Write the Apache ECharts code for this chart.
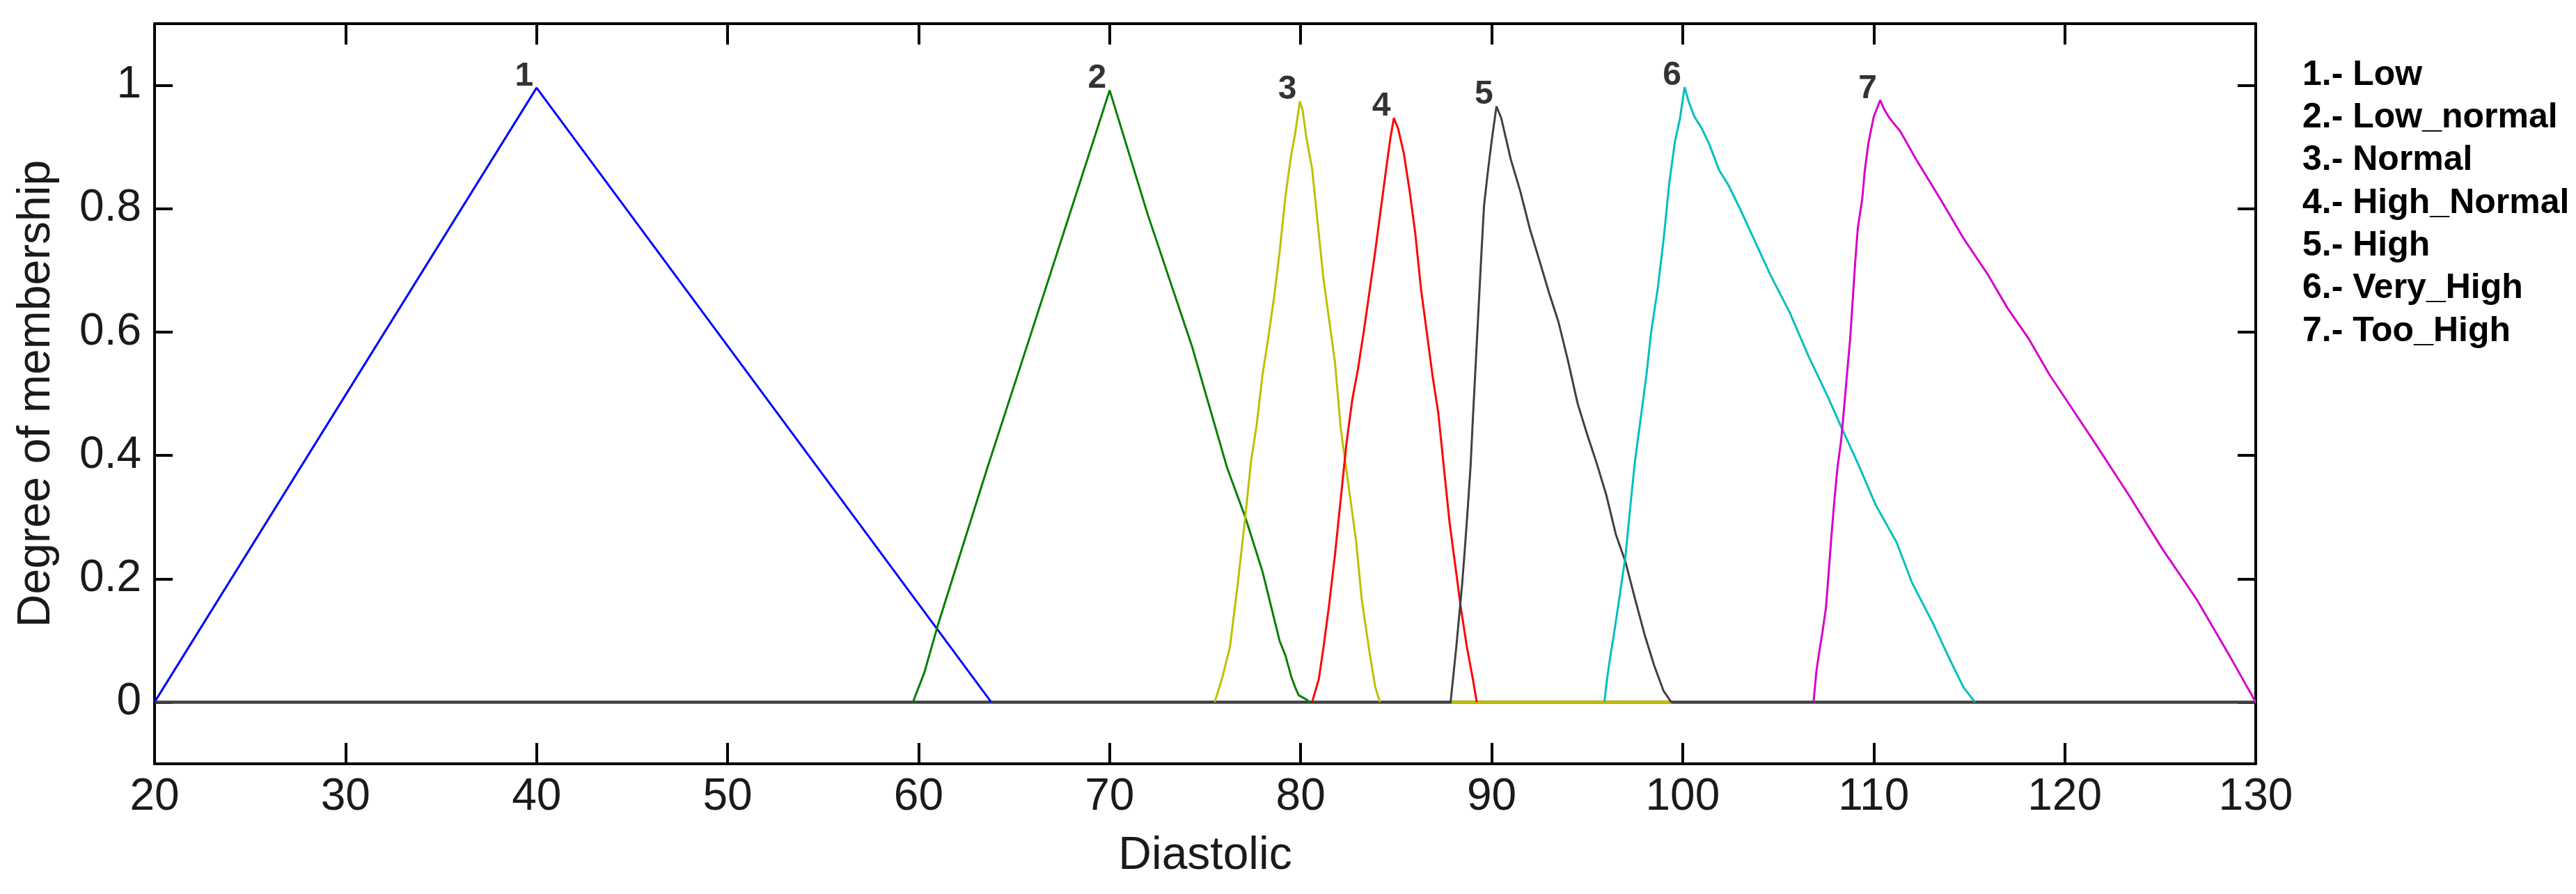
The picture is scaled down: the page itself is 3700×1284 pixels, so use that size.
<!DOCTYPE html>
<html>
<head>
<meta charset="utf-8">
<script src="https://cdn.jsdelivr.net/npm/echarts@6/dist/echarts.min.js"></script>
<style>
html,body{margin:0;padding:0;background:#fff;}
#chart{width:3700px;height:1284px;}
</style>
</head>
<body>
<div id="chart"></div>
<script>
// ---- data ----
const mfNames = ['Low', 'Low_normal', 'Normal', 'High_Normal', 'High', 'Very_High', 'Too_High'];

const lowX = [20, 40, 63.8];
const lowY = [0, 0.996, 0];

const lowNormalX = [59.7, 60.3, 61.0, 63.6, 65.7, 68.0, 70.0, 72.0, 74.3, 76.15, 77.1, 78.0, 78.9, 79.2, 79.5, 79.7, 79.9, 80.2, 80.5];
const lowNormalY = [0, 0.048, 0.124, 0.38, 0.58, 0.8, 0.992, 0.79, 0.578, 0.38, 0.3, 0.212, 0.099, 0.076, 0.042, 0.025, 0.011, 0.006, 0];

const normalX = [75.5, 75.9, 76.3, 76.7, 77.1, 77.4, 77.7, 78.0, 78.3, 78.6, 78.9, 79.2, 79.5, 79.7, 79.96, 80.1, 80.3, 80.6, 80.9, 81.2, 81.5, 81.8, 82.1, 82.6, 82.9, 83.2, 83.6, 83.9, 84.15];
const normalY = [0, 0.04, 0.09, 0.19, 0.3, 0.39, 0.45, 0.53, 0.59, 0.655, 0.73, 0.82, 0.886, 0.92, 0.974, 0.96, 0.915, 0.865, 0.774, 0.685, 0.618, 0.55, 0.443, 0.33, 0.262, 0.166, 0.082, 0.025, 0];

const highNormalX = [80.6, 80.95, 81.2, 81.5, 81.8, 82.1, 82.4, 82.7, 83.0, 83.3, 83.6, 83.9, 84.2, 84.5, 84.7, 84.88, 85.1, 85.4, 85.7, 86.0, 86.3, 86.6, 86.9, 87.2, 87.5, 87.8, 88.1, 88.4, 88.7, 89.0, 89.22];
const highNormalY = [0, 0.037, 0.09, 0.16, 0.24, 0.33, 0.42, 0.49, 0.54, 0.6, 0.665, 0.73, 0.8, 0.87, 0.915, 0.947, 0.93, 0.89, 0.83, 0.76, 0.67, 0.6, 0.53, 0.47, 0.38, 0.29, 0.22, 0.15, 0.09, 0.04, 0];

const highX = [87.85, 88.0, 88.15, 88.3, 88.45, 88.6, 88.75, 88.9, 89.0, 89.15, 89.3, 89.45, 89.6, 89.8, 90.0, 90.25, 90.5, 91.0, 91.5, 92.0, 92.5, 93.0, 93.5, 94.0, 94.5, 95.0, 95.5, 96.0, 96.5, 97.0, 97.5, 98.0, 98.5, 99.0, 99.4];
const highY = [0, 0.045, 0.09, 0.14, 0.19, 0.25, 0.315, 0.385, 0.45, 0.54, 0.63, 0.72, 0.805, 0.86, 0.91, 0.966, 0.947, 0.88, 0.828, 0.767, 0.716, 0.664, 0.616, 0.553, 0.484, 0.434, 0.387, 0.336, 0.272, 0.228, 0.168, 0.11, 0.06, 0.018, 0];

const veryHighX = [95.9, 96.05, 96.2, 96.4, 96.7, 97.0, 97.3, 97.5, 97.8, 98.1, 98.35, 98.7, 99.0, 99.3, 99.6, 99.85, 100.1, 100.3, 100.6, 101.0, 101.4, 101.9, 102.4, 103.0, 104.6, 105.6, 106.6, 107.6, 108.3, 109.2, 110.1, 111.2, 112.0, 113.1, 114.0, 114.7, 115.3];
const veryHighY = [0, 0.04, 0.072, 0.11, 0.172, 0.235, 0.33, 0.39, 0.46, 0.53, 0.6, 0.672, 0.75, 0.842, 0.91, 0.945, 0.997, 0.975, 0.95, 0.93, 0.904, 0.863, 0.838, 0.8, 0.692, 0.632, 0.56, 0.495, 0.446, 0.385, 0.32, 0.259, 0.194, 0.128, 0.068, 0.024, 0];

const tooHighX = [106.85, 107.0, 107.15, 107.3, 107.5, 107.65, 107.8, 107.95, 108.1, 108.3, 108.45, 108.6, 108.77, 108.9, 109.03, 109.17, 109.4, 109.53, 109.72, 110.0, 110.34, 110.55, 110.85, 111.4, 112.2, 113.6, 114.7, 116.0, 117.0, 118.1, 119.2, 120.3, 121.5, 123.35, 125.1, 126.9, 128.65, 130];
const tooHighY = [0, 0.05, 0.082, 0.11, 0.153, 0.213, 0.274, 0.33, 0.379, 0.426, 0.477, 0.531, 0.59, 0.651, 0.713, 0.769, 0.816, 0.861, 0.906, 0.949, 0.976, 0.961, 0.946, 0.925, 0.881, 0.81, 0.752, 0.692, 0.639, 0.59, 0.531, 0.48, 0.424, 0.336, 0.249, 0.167, 0.074, 0];

// baseline at membership 0 and the yellow piece of it
const zeroLineX = [20, 130];
const zeroYellowX = [87.9, 99.4];

const xTicks = [20, 30, 40, 50, 60, 70, 80, 90, 100, 110, 120, 130];
const yTicks = [0, 0.2, 0.4, 0.6, 0.8, 1];

// ---- styling ----
const colors = ['#0000FF', '#008000', '#BFBF00', '#FF0000', '#404040', '#00BFBF', '#D600C8'];
const FONT = "'Liberation Sans', Arial, Helvetica, sans-serif";

const xs = [lowX, lowNormalX, normalX, highNormalX, highX, veryHighX, tooHighX];
const ys = [lowY, lowNormalY, normalY, highNormalY, highY, veryHighY, tooHighY];

function pairs(a, b) { return a.map((v, i) => [v, b[i]]); }

const series = [];
series.push({
  name: 'zero', type: 'line', data: zeroLineX.map(v => [v, 0]), showSymbol: false,
  lineStyle: { color: '#404040', width: 4.5 }, silent: true, z: 1, animation: false
});
series.push({
  name: 'zeroYellow', type: 'line', data: zeroYellowX.map(v => [v, 0]), showSymbol: false,
  lineStyle: { color: '#BFBF00', width: 4.5 }, silent: true, z: 2, animation: false
});
mfNames.forEach((n, i) => {
  series.push({
    name: n, type: 'line', data: pairs(xs[i], ys[i]), showSymbol: false,
    lineStyle: { color: colors[i], width: 3 }, itemStyle: { color: colors[i] },
    z: 3, animation: false, silent: true
  });
});
// numbers above each peak, taken from each curve's highest point
const peaks = mfNames.map((n, i) => {
  let k = 0;
  ys[i].forEach((v, j) => { if (v > ys[i][k]) k = j; });
  return { value: [xs[i][k], ys[i][k]], label: { formatter: String(i + 1) } };
});
series.push({
  name: 'peaks', type: 'scatter', data: peaks, symbolSize: 1,
  itemStyle: { color: 'rgba(0,0,0,0)' }, silent: true, z: 5, animation: false,
  label: {
    show: true, position: 'top', distance: 0, offset: [-18, 8],
    fontFamily: FONT, fontWeight: 'bold', fontSize: 48, color: '#000'
  }
});

const axisLine = { show: true, onZero: false, lineStyle: { color: '#000', width: 4 } };

const option = {
  backgroundColor: '#ffffff',
  animation: false,
  grid: { left: 222, right: 460, top: 34, bottom: 187, containLabel: false },
  legend: {
    data: mfNames,
    orient: 'vertical',
    left: 3302, top: 83, padding: 0,
    itemWidth: 0, itemHeight: 0, itemGap: 11.3,
    icon: 'rect', itemStyle: { opacity: 0 }, lineStyle: { opacity: 0 },
    selectedMode: false,
    formatter: name => (mfNames.indexOf(name) + 1) + '.- ' + name,
    textStyle: { fontFamily: FONT, fontWeight: 'bold', fontSize: 50, lineHeight: 50, color: '#000', padding: 0 }
  },
  xAxis: [{
    type: 'value', min: xTicks[0], max: xTicks[xTicks.length - 1], interval: 10,
    position: 'bottom',
    name: 'Diastolic', nameLocation: 'middle', nameGap: 100,
    nameTextStyle: { fontFamily: FONT, fontSize: 66, color: '#1a1a1a' },
    axisLine: axisLine,
    axisTick: { show: true, inside: true, length: 30, lineStyle: { color: '#000', width: 4 } },
    axisLabel: { show: true, margin: 16, fontFamily: FONT, fontSize: 64, color: '#1a1a1a' },
    splitLine: { show: false }
  }, {
    type: 'value', min: xTicks[0], max: xTicks[xTicks.length - 1], interval: 10,
    position: 'top',
    axisLine: axisLine,
    axisTick: { show: true, inside: true, length: 30, lineStyle: { color: '#000', width: 4 } },
    axisLabel: { show: false },
    splitLine: { show: false }
  }],
  yAxis: [{
    type: 'value', min: -0.1, max: 1.1,
    position: 'left',
    name: 'Degree of membership', nameLocation: 'middle', nameGap: 136, nameRotate: 90,
    nameTextStyle: { fontFamily: FONT, fontSize: 66, color: '#1a1a1a' },
    axisLine: axisLine,
    axisTick: { show: true, inside: true, length: 26, customValues: yTicks, lineStyle: { color: '#000', width: 4 } },
    axisLabel: { show: true, margin: 19, customValues: yTicks, fontFamily: FONT, fontSize: 64, color: '#1a1a1a',
      formatter: v => String(Math.round(v * 10) / 10) },
    splitLine: { show: false }
  }, {
    type: 'value', min: -0.1, max: 1.1,
    position: 'right',
    axisLine: axisLine,
    axisTick: { show: true, inside: true, length: 26, customValues: yTicks, lineStyle: { color: '#000', width: 4 } },
    axisLabel: { show: false, customValues: yTicks },
    splitLine: { show: false }
  }],
  series: series
};

const chart = echarts.init(document.getElementById('chart'), null, { renderer: 'canvas' });
chart.setOption(option);
</script>
</body>
</html>
